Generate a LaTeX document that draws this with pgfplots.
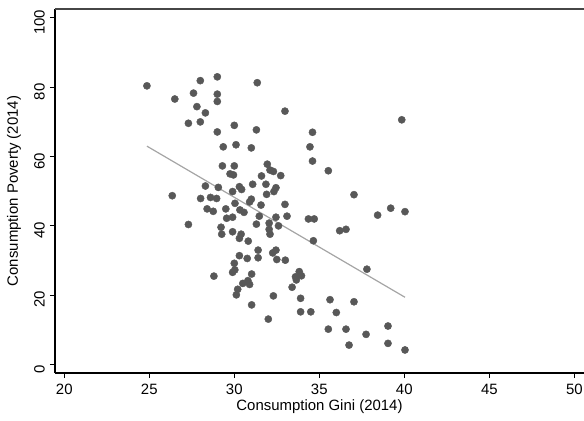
\documentclass[border=0pt]{standalone}
\usepackage{pgfplots}
\pgfplotsset{compat=1.18}
\usepackage{fontspec}
\setmainfont{Liberation Sans}
\definecolor{dot}{RGB}{88,88,88}
\definecolor{fitc}{RGB}{165,165,165}
\definecolor{frame}{RGB}{70,70,70}
\pgfplotstableread{
x y
24.86 80.4
26.5 76.6
27.6 78.3
27.8 74.4
27.3 69.6
28.0 81.9
29.0 83.0
31.35 81.3
29.0 78.0
29.0 75.9
28.3 72.6
28.0 70.0
29.0 67.1
30.0 69.0
31.3 67.7
26.35 48.7
27.3 40.4
29.35 62.8
30.1 63.4
31.0 62.5
29.3 57.3
30.0 57.3
29.75 55.0
29.95 54.7
31.94 57.8
32.1 56.1
32.3 55.7
31.6 54.4
32.73 54.5
28.3 51.5
29.06 51.1
29.9 49.9
30.3 51.3
30.43 50.5
31.08 52.0
31.86 52.0
31.9 49.1
32.45 51.0
32.33 49.9
28.02 47.9
28.6 48.2
28.96 47.9
30.04 46.5
31.0 47.7
30.9 46.9
31.57 46.0
28.4 44.9
28.76 44.2
29.5 44.9
30.33 44.6
30.57 43.9
31.47 42.8
29.55 42.2
29.9 42.5
29.22 39.6
31.3 40.5
32.05 40.8
32.05 39.0
32.1 37.6
29.26 37.6
29.9 38.3
30.4 37.6
30.3 36.4
30.82 35.6
32.98 46.2
33.1 42.8
32.45 42.5
32.6 40.0
34.36 42.0
34.7 42.0
36.2 38.6
36.57 39.0
34.45 62.8
34.6 58.7
35.53 55.9
32.98 73.1
39.85 70.6
34.6 67.0
37.04 49.0
38.43 43.1
39.2 45.1
40.04 44.1
37.8 27.5
34.65 35.7
31.4 33.0
31.4 30.8
30.3 31.4
30.76 30.6
30.0 29.2
29.9 26.6
30.03 27.3
28.8 25.5
31.02 26.1
30.8 24.2
30.5 23.4
30.9 23.1
30.2 21.7
30.12 20.1
31.02 17.2
32.0 13.1
32.45 33.0
32.26 32.2
32.5 30.3
33.0 30.1
33.82 26.8
33.95 25.6
33.6 25.3
33.65 24.4
33.4 22.3
32.3 19.8
33.9 19.1
35.63 18.7
33.9 15.2
34.5 15.2
36.0 15.0
35.53 10.2
36.57 10.2
37.04 18.1
39.04 11.1
37.75 8.7
36.75 5.6
39.04 6.1
40.04 4.2
}\pts
\begin{document}
\fontsize{15}{18}\selectfont
\begin{tikzpicture}
\path[use as bounding box] (-55bp,-48bp) rectangle (529bp,373bp);
\begin{axis}[
  at={(0,0)}, anchor=south west,
  scale only axis, width=529bp, height=364bp,
  xmin=19.453, xmax=50.57, ymin=-2.45, ymax=102.57,
  axis x line*=bottom, axis y line*=left,
  axis line style={line width=1.2bp, -, black},
  xtick={20,25,...,50}, ytick={0,20,...,100},
  tick align=outside, major tick length=5bp,
  tick style={line width=1bp, black},
  /pgf/number format/assume math mode=true,
  ticklabel style={font=\fontsize{15}{18}\selectfont},
  xticklabel style={inner sep=0pt, yshift=-6bp},
  yticklabel style={rotate=90, anchor=south, xshift=-4.5bp},
  xlabel={Consumption Gini (2014)},
  ylabel={Consumption Poverty (2014)},
  label style={font=\fontsize{15}{18}\selectfont, inner sep=0pt},
  xlabel style={at={(axis description cs:0.5,-0.092)}, anchor=center},
  ylabel style={at={(axis description cs:-0.0775,0.5)}, anchor=center},
  clip=false,
]
\addplot[only marks, mark=*, mark size=3.6bp, mark options={draw=dot, fill=dot}] table[x=x, y=y] {\pts};
\addplot[fitc, line width=1.2bp, no marks] coordinates {(24.86,63.0) (40.04,19.4)};
\draw[line width=1.2bp, frame] (rel axis cs:0,1) -- (rel axis cs:1,1);
\end{axis}
\end{tikzpicture}
\end{document}
